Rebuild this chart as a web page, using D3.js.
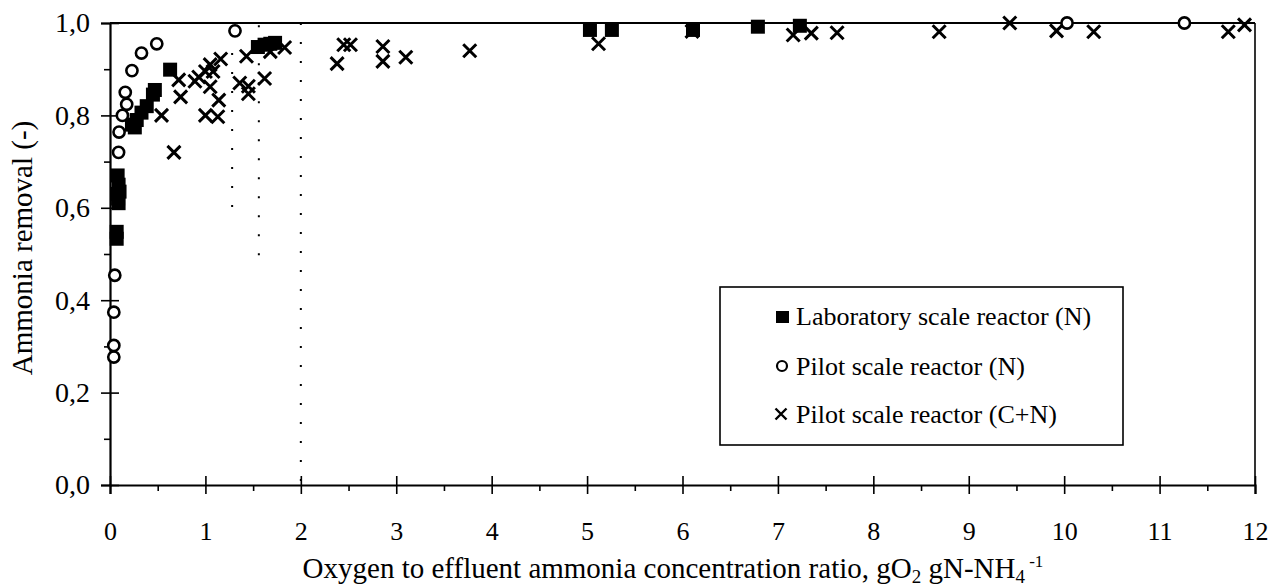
<!DOCTYPE html>
<html>
<head>
<meta charset="utf-8">
<script src="https://cdn.jsdelivr.net/npm/d3@7"></script>
<style>
  body { margin: 0; background: #fff; }
  text { font-family: "Liberation Serif", "Times New Roman", "DejaVu Serif", serif; fill: #000; }
</style>
</head>
<body>
<svg width="1279" height="588"></svg>
<script>
var svg = d3.select("svg"),
    width = +svg.attr("width"),
    height = +svg.attr("height");

// data (x = O2/NH4 ratio, y = removal)
var labX = [0.07, 0.07, 0.08, 0.09, 0.1, 0.085, 0.08, 0.09, 0.23, 0.26, 0.28, 0.33, 0.385, 0.45, 0.47, 0.63,
            1.55, 1.62, 1.68, 1.73, 5.03, 5.26, 6.11, 6.79, 7.23];
var labY = [0.548, 0.533, 0.67, 0.65, 0.635, 0.62, 0.63, 0.61, 0.78, 0.774, 0.79, 0.806, 0.82, 0.845, 0.855, 0.899,
            0.948, 0.953, 0.955, 0.957, 0.985, 0.985, 0.985, 0.992, 0.994];

var pilotNX = [0.04, 0.04, 0.04, 0.05, 0.09, 0.095, 0.13, 0.175, 0.16, 0.23, 0.33, 0.49, 1.31, 10.03, 11.26];
var pilotNY = [0.277, 0.302, 0.374, 0.454, 0.72, 0.764, 0.80, 0.824, 0.85, 0.897, 0.935, 0.955, 0.983, 1.0, 1.0];

var pilotCNX = [0.54, 0.67, 0.72, 0.74, 0.89, 0.93, 1.0, 1.0, 1.05, 1.05, 1.08, 1.13, 1.14, 1.16,
                1.36, 1.43, 1.45, 1.45, 1.62, 1.68, 1.83,
                2.38, 2.45, 2.52, 2.86, 2.86, 3.1, 3.77, 5.12, 6.1, 7.16, 7.35, 7.62, 8.69, 9.43, 9.92, 10.31, 11.72, 11.89];
var pilotCNY = [0.80, 0.72, 0.877, 0.84, 0.874, 0.883, 0.895, 0.80, 0.91, 0.862, 0.895, 0.797, 0.833, 0.922,
                0.87, 0.928, 0.863, 0.847, 0.88, 0.938, 0.947,
                0.912, 0.953, 0.953, 0.949, 0.917, 0.926, 0.94, 0.955, 0.982, 0.974, 0.978, 0.979, 0.981, 1.0, 0.983, 0.981, 0.981, 0.996];

// dotted guide lines: x position, y from, y to
var guideX = [1.28, 1.56, 2];
var guideTop = [0.935, 0.995, 1.0];
var guideBottom = [0.595, 0.486, 0.0];

var xTicks = d3.range(0, 13);
var xMinor = d3.range(0.5, 12, 1);
var yTicks = [0, 0.2, 0.4, 0.6, 0.8, 1.0];
var yMinor = [0.1, 0.3, 0.5, 0.7, 0.9];

var legendNames = ["Laboratory scale reactor (N)", "Pilot scale reactor (N)", "Pilot scale reactor (C+N)"];

var x = d3.scaleLinear().domain([0, 12]).range([110, 1255]);
var y = d3.scaleLinear().domain([0, 1]).range([485, 23]);

var g = svg.append("g");

// frame top + right
g.append("line").attr("x1", x(0)).attr("x2", x(12)).attr("y1", y(1)).attr("y2", y(1))
    .attr("stroke", "#000").attr("stroke-width", 2.2);
g.append("line").attr("x1", x(12)).attr("x2", x(12)).attr("y1", y(1)).attr("y2", y(0))
    .attr("stroke", "#000").attr("stroke-width", 1.6);

// dotted guides
g.selectAll(".guide").data(guideX).enter().append("line")
    .attr("x1", function (d) { return x(d); })
    .attr("x2", function (d) { return x(d); })
    .attr("y1", function (d, i) { return y(guideTop[i]); })
    .attr("y2", function (d, i) { return y(guideBottom[i]); })
    .attr("stroke", "#000").attr("stroke-width", 2)
    .attr("stroke-dasharray", "2,17");

var fontFam = "Liberation Serif, Times New Roman, serif";

// x axis
var xAxis = g.append("g").attr("transform", "translate(0," + y(0) + ")")
    .call(d3.axisBottom(x).tickValues(xTicks).tickSize(9).tickPadding(28).tickFormat(d3.format("d")));
xAxis.select(".domain").attr("stroke-width", 2.2);
xAxis.selectAll(".tick line").attr("y1", -9).attr("stroke-width", 1.6);
xAxis.selectAll("text").attr("font-size", 26).style("font-family", fontFam);

var xAxisMinor = g.append("g").attr("transform", "translate(0," + y(0) + ")")
    .call(d3.axisBottom(x).tickValues(xMinor).tickSize(6).tickFormat(""));
xAxisMinor.select(".domain").remove();
xAxisMinor.selectAll(".tick line").attr("stroke-width", 1.6);

// y axis
var yAxis = g.append("g").attr("transform", "translate(" + x(0) + ",0)")
    .call(d3.axisLeft(y).tickValues(yTicks).tickSize(9).tickPadding(11)
        .tickFormat(function (d) { return d.toFixed(1).replace(".", ","); }));
yAxis.select(".domain").attr("stroke-width", 2.2);
yAxis.selectAll(".tick line").attr("x1", 9).attr("stroke-width", 1.6);
yAxis.selectAll("text").attr("font-size", 28).style("font-family", fontFam);

var yAxisMinor = g.append("g").attr("transform", "translate(" + x(0) + ",0)")
    .call(d3.axisLeft(y).tickValues(yMinor).tickSize(6).tickFormat(""));
yAxisMinor.select(".domain").remove();
yAxisMinor.selectAll(".tick line").attr("stroke-width", 1.6);

// axis titles
svg.append("text")
    .attr("transform", "translate(32,248) rotate(-90)")
    .attr("text-anchor", "middle").attr("font-size", 29)
    .text("Ammonia removal (-)");

var xt = svg.append("text")
    .attr("x", 673).attr("y", 578)
    .attr("text-anchor", "middle").attr("font-size", 29);
xt.append("tspan").text("Oxygen to effluent ammonia concentration ratio, gO");
xt.append("tspan").attr("font-size", 19).attr("dy", 5).text("2");
xt.append("tspan").attr("dy", -5).text(" gN-NH");
xt.append("tspan").attr("font-size", 19).attr("dy", 5).text("4");
xt.append("tspan").attr("font-size", 17).attr("dy", -16).text(" -1");

// markers
var crossPath = function (s) { return "M" + (-s) + "," + (-s) + "L" + s + "," + s + "M" + (-s) + "," + s + "L" + s + "," + (-s); };

g.append("g").selectAll("path").data(pilotCNX).enter().append("path")
    .attr("transform", function (d, i) { return "translate(" + x(d) + "," + y(pilotCNY[i]) + ")"; })
    .attr("d", crossPath(6.5))
    .attr("stroke", "#000").attr("stroke-width", 3).attr("fill", "none");

g.append("g").selectAll("rect").data(labX).enter().append("rect")
    .attr("x", function (d) { return x(d) - 7; })
    .attr("y", function (d, i) { return y(labY[i]) - 7; })
    .attr("width", 14).attr("height", 14)
    .attr("fill", "#000");

g.append("g").selectAll("circle").data(pilotNX).enter().append("circle")
    .attr("cx", function (d) { return x(d); })
    .attr("cy", function (d, i) { return y(pilotNY[i]); })
    .attr("r", 5.6)
    .attr("fill", "#fff").attr("stroke", "#000").attr("stroke-width", 2.6);

// legend
var lg = svg.append("g");
lg.append("rect").attr("x", 720).attr("y", 287).attr("width", 403).attr("height", 158)
    .attr("fill", "#fff").attr("stroke", "#000").attr("stroke-width", 1.6);

var ly = [325, 375, 423];
lg.append("rect").attr("x", 776).attr("y", ly[0] - 14).attr("width", 13).attr("height", 12).attr("fill", "#000");
lg.append("circle").attr("cx", 782).attr("cy", ly[1] - 9).attr("r", 5).attr("fill", "#fff")
    .attr("stroke", "#000").attr("stroke-width", 2.2);
lg.append("path").attr("transform", "translate(781," + (ly[2] - 9) + ")").attr("d", crossPath(5.5))
    .attr("stroke", "#000").attr("stroke-width", 2.4).attr("fill", "none");

lg.selectAll("text.lab").data(legendNames).enter().append("text")
    .attr("x", 796).attr("y", function (d, i) { return ly[i]; })
    .attr("font-size", 26)
    .text(function (d) { return d; });
</script>
</body>
</html>
